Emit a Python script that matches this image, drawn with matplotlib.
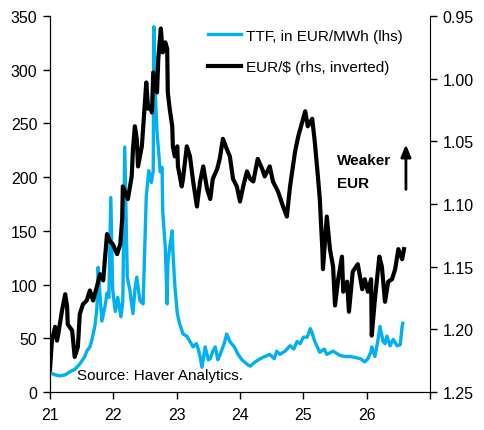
import matplotlib
matplotlib.use("Agg")
import matplotlib.pyplot as plt

plt.rcParams['font.family'] = ['Liberation Sans', 'DejaVu Sans']

# TTF gas price, EUR/MWh (left axis)
ttf_x = [21.00, 21.08, 21.16, 21.24, 21.32, 21.39, 21.47, 21.55, 21.58, 21.63,
         21.66, 21.71, 21.74, 21.76, 21.79, 21.82, 21.87, 21.90, 21.93, 21.96,
         21.99, 22.03, 22.07, 22.12, 22.15, 22.18, 22.22, 22.26, 22.31, 22.34,
         22.37, 22.42, 22.47, 22.52, 22.56, 22.60, 22.63, 22.64, 22.66, 22.69,
         22.74, 22.77, 22.78, 22.82, 22.85, 22.86, 22.89, 22.93, 22.94, 22.97,
         23.01, 23.05, 23.10, 23.16, 23.21, 23.26, 23.31, 23.34, 23.37, 23.40,
         23.45, 23.50, 23.53, 23.57, 23.61, 23.65, 23.68, 23.75, 23.79, 23.84,
         23.91, 23.97, 24.03, 24.11, 24.16, 24.24, 24.32, 24.39, 24.47, 24.54,
         24.58, 24.63, 24.71, 24.79, 24.85, 24.90, 24.95, 25.00, 25.06, 25.11,
         25.14, 25.18, 25.26, 25.33, 25.37, 25.47, 25.58, 25.66, 25.74, 25.83,
         25.90, 25.97, 26.02, 26.07, 26.08, 26.13, 26.18, 26.21, 26.26, 26.29,
         26.32, 26.37, 26.42, 26.45, 26.48, 26.53, 26.56, 26.57]
ttf_y = [18, 16, 15, 16, 19, 21, 26, 33, 38, 42,
         48, 62, 77, 116, 90, 66, 80, 92, 88, 181,
         95, 75, 88, 70, 85, 228, 107, 95, 73, 95,
         107, 85, 82, 182, 206, 195, 206, 340, 282, 242,
         205, 209, 168, 135, 82, 119, 135, 150, 131, 100,
         73, 63, 54, 52, 47, 42, 45, 40, 33, 23,
         42, 30, 31, 38, 42, 30, 34, 45, 54, 47,
         42, 35, 30, 26, 24, 28, 31, 33, 35, 31,
         38, 35, 38, 43, 40, 47, 45, 51, 51, 59,
         55, 47, 37, 40, 35, 38, 34, 33, 33, 32,
         31, 28, 31, 38, 42, 33, 49, 61, 47, 45,
         52, 43, 49, 46, 43, 44, 61, 64]

# EUR/$ (right axis, inverted)
fx_x = [21.00, 21.03, 21.08, 21.11, 21.13, 21.19, 21.24, 21.27, 21.28, 21.35,
        21.39, 21.44, 21.47, 21.52, 21.58, 21.63, 21.68, 21.74, 21.79, 21.84,
        21.90, 21.95, 21.99, 22.06, 22.11, 22.14, 22.15, 22.23, 22.29, 22.31,
        22.34, 22.37, 22.39, 22.45, 22.47, 22.52, 22.55, 22.58, 22.61, 22.63,
        22.69, 22.71, 22.75, 22.78, 22.82, 22.85, 22.86, 22.89, 22.93, 22.94,
        22.97, 23.01, 23.02, 23.08, 23.10, 23.16, 23.21, 23.26, 23.32, 23.37,
        23.42, 23.48, 23.53, 23.57, 23.64, 23.68, 23.73, 23.79, 23.84, 23.89,
        23.95, 24.00, 24.05, 24.11, 24.16, 24.21, 24.28, 24.35, 24.39, 24.47,
        24.52, 24.60, 24.68, 24.74, 24.79, 24.87, 24.92, 24.98, 25.03, 25.07,
        25.14, 25.18, 25.23, 25.26, 25.30, 25.31, 25.37, 25.42, 25.47, 25.50,
        25.55, 25.61, 25.63, 25.69, 25.72, 25.78, 25.86, 25.93, 25.97, 26.02,
        26.07, 26.08, 26.13, 26.20, 26.24, 26.29, 26.34, 26.40, 26.45, 26.50,
        26.56, 26.59]
fx_y = [1.232, 1.209, 1.198, 1.209, 1.204, 1.185, 1.172, 1.182, 1.196, 1.201,
        1.222, 1.214, 1.188, 1.180, 1.177, 1.169, 1.177, 1.166, 1.156, 1.161,
        1.124, 1.130, 1.132, 1.140, 1.132, 1.112, 1.086, 1.096, 1.078, 1.056,
        1.038, 1.048, 1.070, 1.054, 1.040, 1.003, 1.024, 1.022, 1.027, 0.995,
        1.011, 0.984, 0.960, 0.979, 0.971, 0.976, 1.011, 1.024, 1.038, 1.054,
        1.062, 1.054, 1.070, 1.086, 1.080, 1.054, 1.062, 1.082, 1.102, 1.082,
        1.070, 1.088, 1.096, 1.080, 1.072, 1.064, 1.048, 1.056, 1.062, 1.080,
        1.086, 1.098, 1.086, 1.074, 1.080, 1.082, 1.064, 1.072, 1.078, 1.070,
        1.082, 1.090, 1.102, 1.110, 1.086, 1.058, 1.046, 1.035, 1.026, 1.038,
        1.032, 1.050, 1.078, 1.096, 1.136, 1.152, 1.110, 1.136, 1.150, 1.181,
        1.160, 1.142, 1.170, 1.162, 1.186, 1.154, 1.148, 1.168, 1.160, 1.170,
        1.160, 1.205, 1.176, 1.142, 1.150, 1.178, 1.162, 1.160, 1.152, 1.136,
        1.144, 1.136]

years = [21, 22, 23, 24, 25, 26, 27]
year_labels = ['21', '22', '23', '24', '25', '26', '']
left_ticks = [0, 50, 100, 150, 200, 250, 300, 350]
right_ticks = [0.95, 1.00, 1.05, 1.10, 1.15, 1.20, 1.25]

fig = plt.figure(figsize=(4.85, 4.31), dpi=100)
ax = fig.add_axes([50/485, 1 - 393/431, 380/485, 376/431])
ax2 = ax.twinx()

l1, = ax.plot(ttf_x, ttf_y, color='#00B0F0', lw=2.4, label='TTF, in EUR/MWh (lhs)')
l2, = ax2.plot(fx_x, fx_y, color='black', lw=3.0, label='EUR/$ (rhs, inverted)')

ax.set_xlim(21, 27)
ax.set_ylim(0, 350)
ax.set_xticks(years)
ax.set_xticklabels(year_labels)
ax.set_yticks(left_ticks)
ax2.set_ylim(1.25, 0.95)
ax2.set_yticks(right_ticks)
ax2.set_yticklabels([f'{v:.2f}' for v in right_ticks])

for a in (ax, ax2):
    a.spines['top'].set_visible(False)
    a.tick_params(labelsize=11.5, length=5, width=1, direction='out', pad=4)
ax.tick_params(axis='x', pad=6)
ax.spines['right'].set_visible(False)

ax.legend(handles=[l1, l2], loc='upper left', bbox_to_anchor=(200/485, 1 - 22/431),
          bbox_transform=fig.transFigure, frameon=False, fontsize=11,
          handlelength=2.2, handletextpad=0.3, labelspacing=1.15, borderpad=0)

ax.text(25.53, 216, 'Weaker', fontsize=11, fontweight='bold', va='center')
ax.text(25.53, 195, 'EUR', fontsize=11, fontweight='bold', va='center')
ax.annotate('', xy=(26.62, 233), xytext=(26.62, 186),
            arrowprops=dict(arrowstyle='-|>,head_width=0.25,head_length=0.6',
                            color='black', lw=2, mutation_scale=12))
ax.text(21.43, 16, 'Source: Haver Analytics.', fontsize=11, va='center')

fig.savefig('out.png', dpi=100)
